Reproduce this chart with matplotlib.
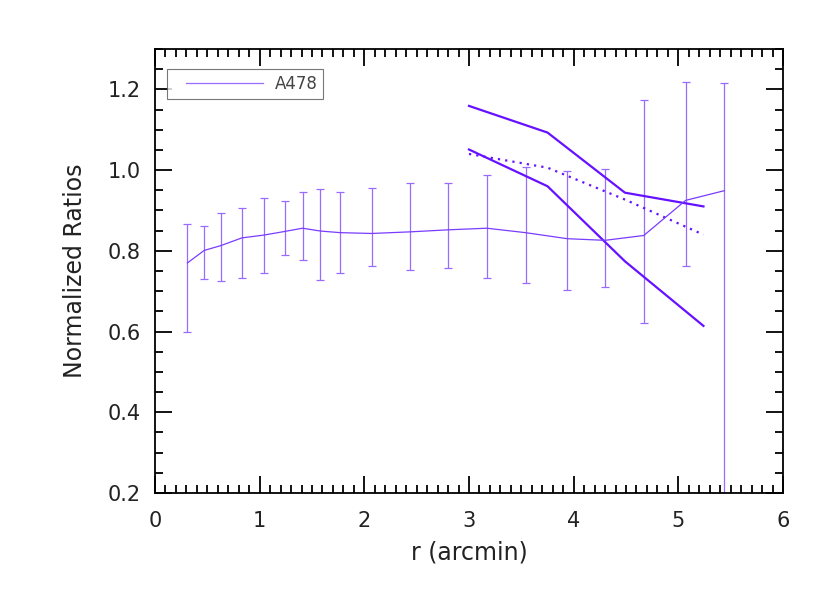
import matplotlib
matplotlib.use('Agg')
import matplotlib.pyplot as plt
from matplotlib.ticker import MultipleLocator
from matplotlib.lines import Line2D
from matplotlib.legend_handler import HandlerLine2D

# A478 profile with error bars
r_a478 = [0.31, 0.47, 0.63, 0.83, 1.04, 1.24, 1.41, 1.58, 1.77, 2.07, 2.44, 2.80,
          3.17, 3.54, 3.94, 4.30, 4.67, 5.07, 5.44]
ratio_a478 = [0.770, 0.801, 0.813, 0.832, 0.839, 0.848, 0.856, 0.849, 0.845, 0.843, 0.847, 0.852,
              0.856, 0.845, 0.830, 0.826, 0.838, 0.925, 0.949]
err_hi = [0.867, 0.861, 0.894, 0.905, 0.931, 0.924, 0.946, 0.954, 0.946, 0.955, 0.967, 0.968,
          0.987, 1.007, 0.997, 1.003, 1.173, 1.218, 1.215]
err_lo = [0.600, 0.730, 0.724, 0.733, 0.745, 0.790, 0.777, 0.727, 0.745, 0.763, 0.753, 0.758,
          0.733, 0.720, 0.704, 0.710, 0.621, 0.762, 0.0]

# model curves
r_model = [3.0, 3.75, 4.49, 5.24]
upper_model = [1.159, 1.093, 0.944, 0.910]
lower_model = [1.051, 0.960, 0.774, 0.614]
mid_model = [1.040, 1.006, 0.927, 0.840]

yerr = [[v - lo for v, lo in zip(ratio_a478, err_lo)],
        [hi - v for v, hi in zip(ratio_a478, err_hi)]]


# legend line that starts a bit in from the box edge
class IndentedLine(HandlerLine2D):
    def get_xdata(self, legend, xdescent, ydescent, width, height, fontsize):
        xdata = [-xdescent + 0.15 * width, -xdescent + width]
        return xdata, xdata


plt.rcParams['font.family'] = ['DejaVu Sans']

fig = plt.figure(figsize=(8.3, 5.93), dpi=100)
ax = fig.add_axes([155 / 830, 1 - 493 / 593, 628 / 830, 444 / 593])

ax.errorbar(r_a478, ratio_a478, yerr=yerr, color='#7a3cff', ecolor='#9a6bff',
            elinewidth=0.9, capsize=3, capthick=0.9, lw=0.9)
ax.plot(r_model, upper_model, color='#6611ff', lw=1.6)
ax.plot(r_model, lower_model, color='#6611ff', lw=1.6)
ax.plot(r_model, mid_model, color='#6611ff', lw=1.6, linestyle=(0, (1, 2.3)))

ax.set_xlim(0, 6)
ax.set_ylim(0.2, 1.3)
ax.xaxis.set_major_locator(MultipleLocator(1))
ax.xaxis.set_minor_locator(MultipleLocator(0.1))
ax.yaxis.set_minor_locator(MultipleLocator(0.05))
ax.set_yticks([0.2, 0.4, 0.6, 0.8, 1.0, 1.2])
ax.tick_params(which='both', direction='in', top=True, right=True, width=1.3, colors='black',
               labelcolor='#222222', labelsize=15)
ax.tick_params(axis='x', which='major', pad=13)
ax.tick_params(axis='y', which='major', pad=10)
ax.tick_params(which='major', length=12)
ax.tick_params(which='minor', length=6)
for s in ax.spines.values():
    s.set_linewidth(1.3)

ax.set_xlabel('r (arcmin)', fontsize=17, color='#222222', labelpad=7)
ax.set_ylabel('Normalized Ratios', fontsize=17, color='#222222', labelpad=15)

handle = Line2D([], [], color='#9a6bff', lw=0.9)
leg = ax.legend([handle], ['A478'], loc='upper left', bbox_to_anchor=(0.019, 0.955),
                borderaxespad=0, fontsize=12, frameon=True, fancybox=False,
                edgecolor='#555555', handlelength=5.4, borderpad=0.35, labelcolor='#444444',
                handletextpad=0.7, handler_map={Line2D: IndentedLine()})
leg.get_frame().set_linewidth(0.8)

plt.savefig('out.png', dpi=100)
